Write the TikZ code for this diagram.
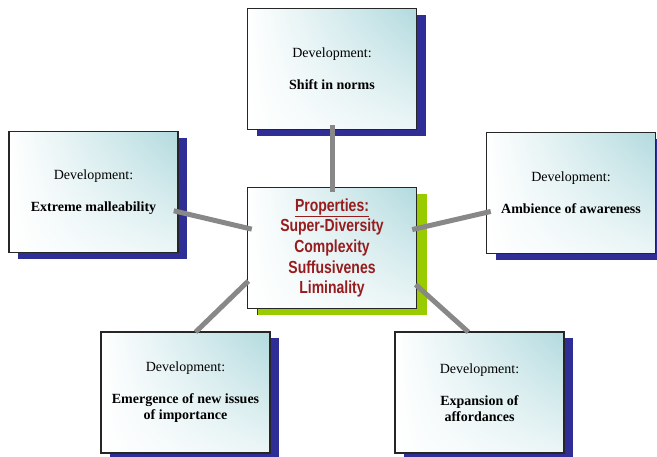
\documentclass[tikz,border=0pt]{standalone}
\usepackage{fontspec}
\setmainfont{Liberation Serif}
\newfontfamily\propfont[FakeStretch=0.8]{Liberation Sans}
\usetikzlibrary{shadows,shadings}
\definecolor{boxteal}{RGB}{178,218,222}
\definecolor{shblue}{RGB}{46,46,150}
\definecolor{shgreen}{RGB}{153,204,0}
\definecolor{propred}{RGB}{150,28,30}
\definecolor{linkgray}{RGB}{136,136,136}
\tikzset{
	devbox/.style={draw=black!85, line width=1.2pt, minimum width=169pt, minimum height=121pt,
		inner sep=0pt, align=center, font=\fontsize{14}{16}\selectfont,
		upper left=white, lower left=white, upper right=boxteal, lower right=boxteal!25,
		general shadow={fill=shblue, shadow xshift=9pt, shadow yshift=-6pt}},
	propbox/.style={devbox, text=propred, font=\propfont\bfseries\fontsize{17.5}{20.7}\selectfont,
		general shadow={fill=shgreen, shadow xshift=10pt, shadow yshift=-6pt}},
	link/.style={draw=linkgray, line width=5pt, shorten <=-5pt, shorten >=-5pt},
	linkb/.style={link, shorten <=-2pt, shorten >=-1pt}
}
\begin{document}
\begin{tikzpicture}[x=1pt, y=-1pt]
\useasboundingbox (0,0) rectangle (657,456);
\clip (0,0) rectangle (657,456);
\node[devbox] (norms) at (332,69) {Development:\\[16pt]\textbf{Shift in norms}};
\node[devbox] (mall) at (93.5,192) {Development:\\[16pt]\textbf{Extreme malleability}};
\node[devbox] (amb) at (571,193) {Development:\\[16pt]\textbf{Ambience of awareness}};
\node[devbox] (emerg) at (185.5,392.5) {Development:\\[16pt]\textbf{Emergence of new issues}\\\textbf{of importance}};
\node[devbox] (afford) at (479.5,392.5) {Development:\\[16pt]\textbf{Expansion of}\\\textbf{affordances}};
\node[propbox] (prop) at (332,248) {\underline{Properties:}\\Super-Diversity\\Complexity\\Suffusivenes\\Liminality};
\draw[link] (prop) -- (norms);
\draw[link] (prop) -- (mall);
\draw[link] (prop) -- (amb);
\draw[linkb] (prop.202) -- (emerg.80);
\draw[linkb] (prop.336) -- (afford.101);
\end{tikzpicture}
\end{document}
